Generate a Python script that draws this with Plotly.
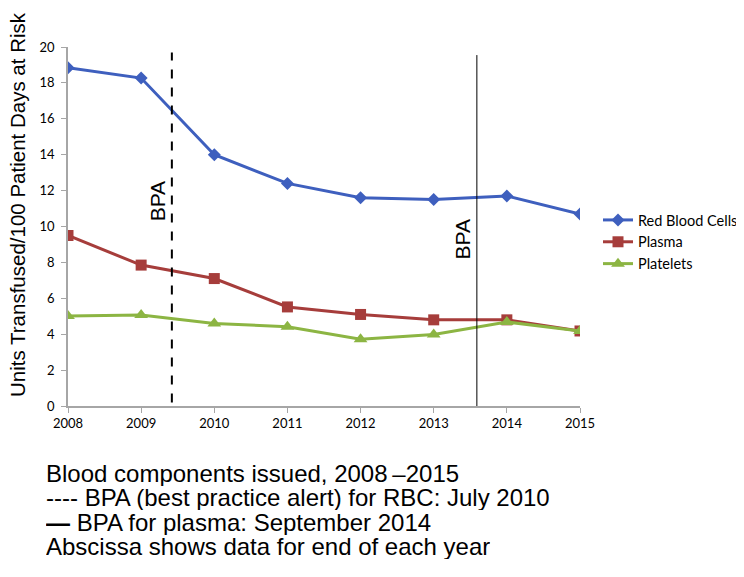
import plotly.graph_objects as go

years = [2008, 2009, 2010, 2011, 2012, 2013, 2014, 2015]
rbc = [18.85, 18.27, 14.0, 12.4, 11.6, 11.5, 11.7, 10.7]
plasma = [9.5, 7.85, 7.1, 5.52, 5.1, 4.8, 4.8, 4.18]
platelets = [5.02, 5.07, 4.6, 4.42, 3.72, 3.98, 4.68, 4.18]
series_names = ["Red Blood Cells", "Plasma", "Platelets"]
bpa_rbc_x = 2009.42
bpa_plasma_x = 2013.59
footnotes = [
    "Blood components issued, 2008\u2009\u20132015",
    "---- BPA (best practice alert) for RBC: July 2010",
    "<b>\u2014</b> BPA for plasma: September 2014",
    "Abscissa shows data for end of each year",
]
y_title = "Units Transfused/100 Patient Days at Risk"

# page body has an 8px margin; work in screen pixels and convert
OFF = 8
W, H = 744 - OFF, 577 - OFF
L, T = 68 - OFF, 47 - OFF
R = W - (580 - OFF)
B = H - (406 - OFF)
pw, ph = W - L - R, H - T - B


def px_to_paper(sx, sy):
    fx, fy = sx - OFF, sy - OFF
    return (fx - L) / pw, (H - B - fy) / ph


fig = go.Figure()
fig.add_trace(go.Scatter(x=years, y=rbc, name=series_names[0], mode="lines+markers",
                         line=dict(color="#3E5FBE", width=3),
                         marker=dict(symbol="diamond", size=10, color="#3E5FBE")))
fig.add_trace(go.Scatter(x=years, y=plasma, name=series_names[1], mode="lines+markers",
                         line=dict(color="#A63D3B", width=3),
                         marker=dict(symbol="square", size=11, color="#A63D3B")))
fig.add_trace(go.Scatter(x=years, y=platelets, name=series_names[2], mode="lines+markers",
                         line=dict(color="#8CB543", width=3),
                         marker=dict(symbol="triangle-up", size=12, color="#8CB543")))

fig.add_shape(type="line", x0=bpa_rbc_x, x1=bpa_rbc_x, y0=0.2, y1=19.7, xref="x", yref="y",
              line=dict(color="black", width=2, dash="dash"))
fig.add_shape(type="line", x0=bpa_plasma_x, x1=bpa_plasma_x, y0=0, y1=19.55, xref="x", yref="y",
              line=dict(color="black", width=1))
fig.add_annotation(x=bpa_rbc_x, y=11.42, xref="x", yref="y", text="BPA", textangle=-90,
                   showarrow=False, xanchor="right", xshift=-1,
                   font=dict(family="Liberation Sans", size=21, color="black"))
fig.add_annotation(x=bpa_plasma_x, y=9.3, xref="x", yref="y", text="BPA", textangle=-90,
                   showarrow=False, xanchor="right", xshift=-1,
                   font=dict(family="Liberation Sans", size=21, color="black"))

ax, ay = px_to_paper(17, 205)
fig.add_annotation(x=ax, y=ay, xref="paper", yref="paper", text=y_title, textangle=-90,
                   showarrow=False, xanchor="center", yanchor="middle",
                   font=dict(family="Liberation Sans", size=20.5, color="black"))

for i, t in enumerate(footnotes):
    fx, fy = px_to_paper(44, 473 + i * 24.6)
    fig.add_annotation(x=fx, y=fy, xref="paper", yref="paper", text=t, showarrow=False,
                       xanchor="left", yanchor="middle", align="left", height=25,
                       font=dict(family="Liberation Sans", size=24, color="black"))

lx, ly = px_to_paper(598, 242)
fig.update_layout(
    width=W, height=H,
    margin=dict(l=L, r=R, t=T, b=B, autoexpand=False),
    paper_bgcolor="white", plot_bgcolor="white",
    showlegend=True,
    legend=dict(x=lx, y=ly, xanchor="left", yanchor="middle",
                font=dict(family="Lato", size=14.5, color="black"),
                bgcolor="rgba(0,0,0,0)", tracegroupgap=0),
    xaxis=dict(range=[2008, 2015], tickmode="array", tickvals=years,
               ticktext=[str(y) for y in years], showgrid=False, zeroline=False,
               showline=True, linecolor="#A6A6A6", linewidth=1.5,
               ticks="outside", ticklen=5, tickcolor="#A6A6A6", automargin=False,
               tickfont=dict(family="Lato", size=13, color="black")),
    yaxis=dict(range=[0, 20], tickvals=list(range(0, 21, 2)), showgrid=False,
               zeroline=False, showline=True, linecolor="#A6A6A6", linewidth=1.5,
               ticks="outside", ticklen=5, tickcolor="#A6A6A6", automargin=False,
               ticklabelstandoff=4,
               tickfont=dict(family="Lato", size=13, color="black")),
)
fig.write_html("out.html")
